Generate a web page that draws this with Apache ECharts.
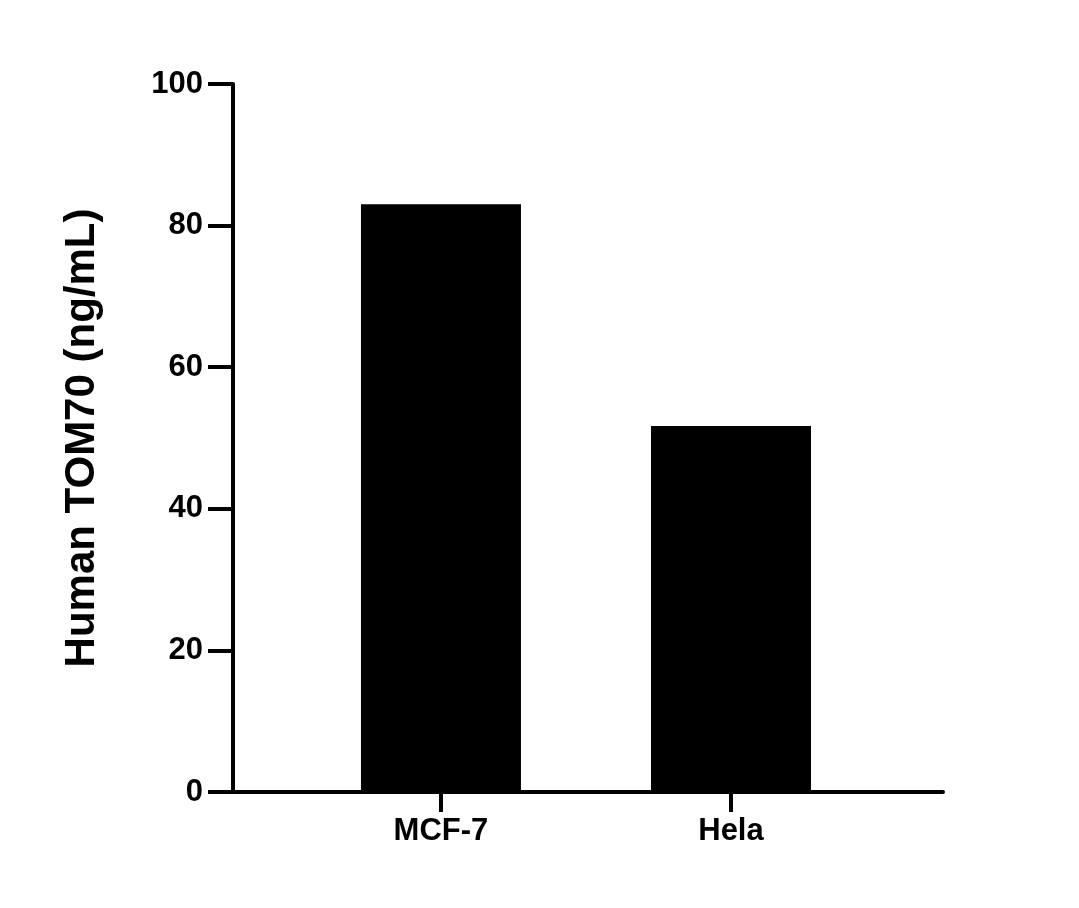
<!DOCTYPE html><html><head><meta charset="utf-8"><script src="https://cdn.jsdelivr.net/npm/echarts@6/dist/echarts.min.js"></script></head><body style="margin:0"><div id="c" style="width:1079px;height:908px"></div><script>
const categories=['MCF-7','Hela'];
const values=[83,51.7];
const yTicks=[0,20,40,60,80,100];
const ch=echarts.init(document.getElementById('c'));
const F='"Liberation Sans", Arial, sans-serif';
ch.setOption({animation:false,backgroundColor:'#fff',
grid:{left:233,right:136,top:84,bottom:116},
xAxis:{type:'value',min:0.283,max:2.731,splitLine:{show:false},
 axisLine:{onZero:false,lineStyle:{color:'#000',width:4}},
 axisTick:{length:20,lineStyle:{color:'#000',width:4},customValues:[1,2]},
 axisLabel:{customValues:[1,2],formatter:v=>categories[Math.round(v)-1]||'',color:'#000',fontFamily:F,fontWeight:'bold',fontSize:31,margin:24}},
yAxis:{type:'value',min:0,max:100,interval:20,splitLine:{show:false},
 name:'Human TOM70 (ng/mL)',nameLocation:'middle',nameGap:130,nameTextStyle:{color:'#000',fontFamily:F,fontWeight:'bold',fontSize:42},
 axisLine:{show:true,lineStyle:{color:'#000',width:4}},
 axisTick:{show:true,length:25,lineStyle:{color:'#000',width:4}},
 axisLabel:{color:'#000',fontFamily:F,fontWeight:'bold',fontSize:31,margin:30}},
series:[{type:'bar',barWidth:160,itemStyle:{color:'#000'},data:values.map((v,i)=>[i+1,v])}]});
</script></body></html>
